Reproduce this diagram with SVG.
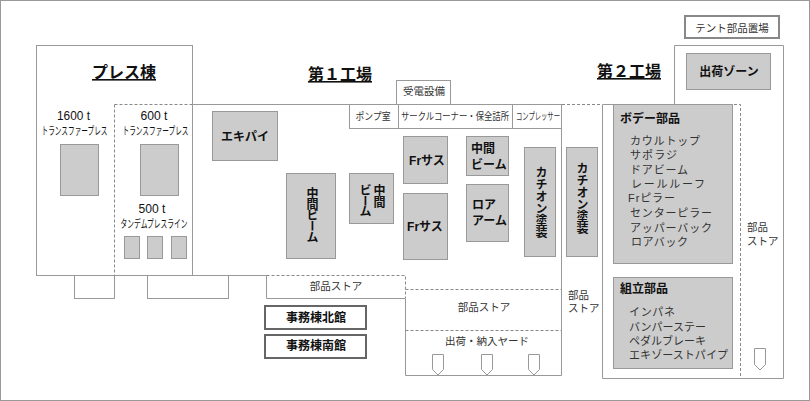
<svg xmlns="http://www.w3.org/2000/svg" width="810" height="401" viewBox="0 0 810 401">
<style>
text{font-family:"Liberation Sans","Noto Sans CJK JP",sans-serif;fill:#333;font-size:11px}
.l{fill:none;stroke:#999;stroke-width:1}
.w{fill:#fff;stroke:#999;stroke-width:1}
.d{fill:none;stroke:#888;stroke-width:1;stroke-dasharray:3 2}
.g{fill:#ccc;stroke:#999;stroke-width:1}
.o{fill:#fff;stroke:#666;stroke-width:2}
.t{fill:#fff;stroke:#888;stroke-width:2}
.h{font-size:16px;font-weight:700;fill:#111;text-decoration:underline}
.b{font-size:12px;font-weight:700;fill:#111}
.m{text-anchor:middle}
.n{font-size:11px;fill:#333}
.u{font-size:12px;fill:#111}
.c{font-size:11px;fill:#111}
.s{font-size:10.5px}
.r{font-size:10px}
.v{writing-mode:vertical-rl;text-anchor:middle;font-size:12px;font-weight:700;fill:#111}
</style>
<rect x="0.5" y="0.5" width="809" height="400" class="l"/>
<g id="connectors">
<path class="l" d="M192 104.5H350M350 104.5H561.5V375.5H405.5V298.5H266.5V275.5H192"/>
<path class="d" d="M114.5 104.5H192M114.5 104.5V275M266.5 275.5H405.5V298M405.5 289.5H561M405.5 330.5H561M562 104.5H602"/>
</g>
<g id="press"><rect x="36.5" y="45.5" width="156" height="230" class="l"/>
<rect x="74.5" y="275.5" width="40" height="23" class="l"/><rect x="147.5" y="275.5" width="81" height="23" class="l"/>
<text x="124" y="78" class="h m">プレス棟</text></g>
<g id="press1600"><text x="73.5" y="120" class="u m" textLength="33" lengthAdjust="spacingAndGlyphs">1600 t</text>
<text x="74.5" y="135" class="c m" textLength="66" lengthAdjust="spacingAndGlyphs">トランスファープレス</text>
<rect x="60.5" y="144.5" width="38" height="51" class="g"/></g>
<g id="press600"><text x="154" y="120" class="u m" textLength="27" lengthAdjust="spacingAndGlyphs">600 t</text>
<text x="155.5" y="135" class="c m" textLength="66" lengthAdjust="spacingAndGlyphs">トランスファープレス</text>
<rect x="140.5" y="144.5" width="38" height="51" class="g"/></g>
<g id="press500"><text x="152" y="213" class="u m" textLength="27" lengthAdjust="spacingAndGlyphs">500 t</text>
<text x="154" y="228" class="c m" textLength="67" lengthAdjust="spacingAndGlyphs">タンデムプレスライン</text>
<rect x="124.5" y="236.5" width="15" height="22" class="g"/><rect x="147.5" y="236.5" width="15" height="22" class="g"/><rect x="171.5" y="236.5" width="15" height="22" class="g"/></g>
<g id="title1"><text x="340" y="80" class="h m">第１工場</text></g>
<g id="title2"><text x="629" y="77" class="h m">第２工場</text></g>
<g id="power"><rect x="396.5" y="80.5" width="54" height="24" class="w"/><text x="424" y="95" class="s m">受電設備</text></g>
<g id="rooms"><rect x="349.5" y="104.5" width="212" height="24" class="w"/><path class="l" d="M398.5 104.5V128.5M512.5 104.5V128.5"/>
<text x="373" y="120" class="r m" textLength="35" lengthAdjust="spacingAndGlyphs">ポンプ室</text>
<text x="455" y="120" class="r m" textLength="108" lengthAdjust="spacingAndGlyphs">サークルコーナー・保全詰所</text>
<text x="538" y="120" class="r m" textLength="44" lengthAdjust="spacingAndGlyphs">コンプレッサー</text></g>
<g id="ekipai"><rect x="212.5" y="111.5" width="65" height="49" class="g"/><text x="245" y="141" class="b m">エキパイ</text></g>
<g id="beam1"><rect x="286.5" y="173.5" width="49" height="85" class="g"/><text x="311" y="215" class="v" textLength="56">中間ビーム</text></g>
<g id="beam2"><rect x="349.5" y="173.5" width="44" height="50" class="g"/><text x="378" y="196" class="v">中間</text><text x="364" y="201" class="v" textLength="33">ビーム</text></g>
<g id="fr1"><rect x="403.5" y="136.5" width="44" height="47" class="g"/><text x="427" y="165" class="b m">Frサス</text></g>
<g id="fr2"><rect x="403.5" y="193.5" width="44" height="66" class="g"/><text x="425" y="231" class="b m">Frサス</text></g>
<g id="beam3"><rect x="466.5" y="136.5" width="42" height="39" class="g"/><text x="471" y="153" class="b">中間</text><text x="471" y="169" class="b">ビーム</text></g>
<g id="lower"><rect x="466.5" y="184.5" width="42" height="57" class="g"/><text x="472" y="209" class="b">ロア</text><text x="472" y="225" class="b">アーム</text></g>
<g id="cation1"><rect x="524.5" y="147.5" width="31" height="109" class="g"/><text x="540" y="202" class="v">カチオン塗装</text></g>
<g id="cation2"><rect x="566.5" y="147.5" width="31" height="109" class="g"/><text x="581" y="198" class="v">カチオン塗装</text></g>
<g id="store1"><text x="336" y="290" class="s m">部品ストア</text></g>
<g id="store2"><text x="484" y="311" class="s m">部品ストア</text></g>
<g id="store3"><text x="568" y="299" class="s">部品</text><text x="568" y="312" class="s">ストア</text></g>
<g id="yard"><text x="487" y="345" class="s m">出荷・納入ヤード</text>
<path class="w" d="M432.5 354.5H443.5V369.5L438 375L432.5 369.5Z"/><path class="w" d="M481.5 354.5H492.5V369.5L487 375L481.5 369.5Z"/><path class="w" d="M528.5 354.5H539.5V369.5L534 375L528.5 369.5Z"/></g>
<g id="north"><rect x="265" y="306" width="101" height="23" class="o"/><text x="316" y="322" class="b m">事務棟北館</text></g>
<g id="south"><rect x="265" y="335" width="101" height="23" class="o"/><text x="316" y="350" class="b m">事務棟南館</text></g>
<g id="plant2"><path class="l" d="M602.5 104.5V378.5H783.5V45.5H674.5V104.5"/><path class="l" d="M602.5 104.5H614"/><path class="d" d="M614 104.5H740.5V378"/></g>
<g id="tent"><rect x="685" y="16" width="94" height="22" class="t"/><text x="732" y="32" class="s m">テント部品置場</text></g>
<g id="shipping"><rect x="686.5" y="53.5" width="84" height="36" class="g"/><text x="729" y="76" class="b m">出荷ゾーン</text></g>
<g id="body"><rect x="613.5" y="104.5" width="119" height="159" class="g"/><text x="620" y="123" class="b">ボデー部品</text>
<text x="630" y="145" class="n" textLength="70">カウルトップ</text><text x="630" y="159" class="n" textLength="47">サポラジ</text><text x="630" y="174" class="n" textLength="58">ドアビーム</text><text x="631" y="188" class="n" textLength="74">レールルーフ</text><text x="628" y="202" class="n" textLength="47">Frピラー</text><text x="630" y="217" class="n" textLength="82">センターピラー</text><text x="630" y="232" class="n" textLength="82">アッパーバック</text><text x="631" y="246" class="n" textLength="57">ロアバック</text></g>
<g id="assembly"><rect x="613.5" y="277.5" width="119" height="91" class="g"/><text x="620" y="293" class="b">組立部品</text>
<text x="629" y="316" class="n" textLength="46">インパネ</text><text x="629" y="331" class="n" textLength="77">バンパーステー</text><text x="629" y="345" class="n" textLength="77">ペダルブレーキ</text><text x="629" y="359" class="n" textLength="99">エキゾーストパイプ</text></g>
<g id="store4"><text x="747" y="231" class="s">部品</text><text x="747" y="245" class="s">ストア</text>
<path class="w" d="M754.5 348.5H765.5V364.5L760 370L754.5 364.5Z"/></g>
</svg>
